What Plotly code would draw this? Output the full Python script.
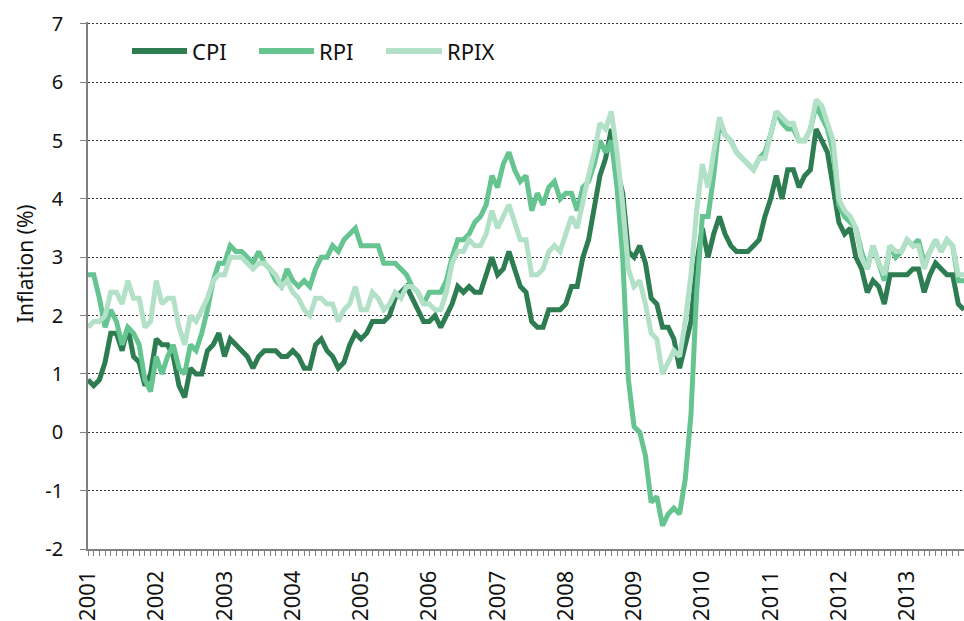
import plotly.graph_objects as go

# Monthly 12-month inflation rates, Jan 2001 - Nov 2013 (%)
years = list(range(2001, 2014))

cpi = [
    0.9, 0.8, 0.9, 1.2, 1.7, 1.7, 1.4, 1.8, 1.3, 1.2, 0.8, 1.0,
    1.6, 1.5, 1.5, 1.3, 0.8, 0.6, 1.1, 1.0, 1.0, 1.4, 1.5, 1.7,
    1.3, 1.6, 1.5, 1.4, 1.3, 1.1, 1.3, 1.4, 1.4, 1.4, 1.3, 1.3,
    1.4, 1.3, 1.1, 1.1, 1.5, 1.6, 1.4, 1.3, 1.1, 1.2, 1.5, 1.7,
    1.6, 1.7, 1.9, 1.9, 1.9, 2.0, 2.3, 2.4, 2.5, 2.3, 2.1, 1.9,
    1.9, 2.0, 1.8, 2.0, 2.2, 2.5, 2.4, 2.5, 2.4, 2.4, 2.7, 3.0,
    2.7, 2.8, 3.1, 2.8, 2.5, 2.4, 1.9, 1.8, 1.8, 2.1, 2.1, 2.1,
    2.2, 2.5, 2.5, 3.0, 3.3, 3.8, 4.4, 4.7, 5.2, 4.5, 4.1, 3.1,
    3.0, 3.2, 2.9, 2.3, 2.2, 1.8, 1.8, 1.6, 1.1, 1.5, 1.9, 2.9,
    3.5, 3.0, 3.4, 3.7, 3.4, 3.2, 3.1, 3.1, 3.1, 3.2, 3.3, 3.7,
    4.0, 4.4, 4.0, 4.5, 4.5, 4.2, 4.4, 4.5, 5.2, 5.0, 4.8, 4.2,
    3.6, 3.4, 3.5, 3.0, 2.8, 2.4, 2.6, 2.5, 2.2, 2.7, 2.7, 2.7,
    2.7, 2.8, 2.8, 2.4, 2.7, 2.9, 2.8, 2.7, 2.7, 2.2, 2.1,
]

rpi = [
    2.7, 2.7, 2.3, 1.8, 2.1, 1.9, 1.5, 1.8, 1.7, 1.5, 0.9, 0.7,
    1.3, 1.0, 1.3, 1.5, 1.1, 1.0, 1.5, 1.4, 1.7, 2.1, 2.6, 2.9,
    2.9, 3.2, 3.1, 3.1, 3.0, 2.9, 3.1, 2.9, 2.8, 2.6, 2.5, 2.8,
    2.6, 2.5, 2.6, 2.5, 2.8, 3.0, 3.0, 3.2, 3.1, 3.3, 3.4, 3.5,
    3.2, 3.2, 3.2, 3.2, 2.9, 2.9, 2.9, 2.8, 2.7, 2.5, 2.4, 2.2,
    2.4, 2.4, 2.4, 2.6, 3.0, 3.3, 3.3, 3.4, 3.6, 3.7, 3.9, 4.4,
    4.2, 4.6, 4.8, 4.5, 4.3, 4.4, 3.8, 4.1, 3.9, 4.2, 4.3, 4.0,
    4.1, 4.1, 3.8, 4.2, 4.3, 4.6, 5.0, 4.8, 5.0, 4.2, 3.0, 0.9,
    0.1, 0.0, -0.4, -1.2, -1.1, -1.6, -1.4, -1.3, -1.4, -0.8, 0.3, 2.4,
    3.7, 3.7, 4.4, 5.3, 5.1, 5.0, 4.8, 4.7, 4.6, 4.5, 4.7, 4.8,
    5.1, 5.5, 5.3, 5.2, 5.2, 5.0, 5.0, 5.2, 5.6, 5.4, 5.2, 4.8,
    3.9, 3.7, 3.6, 3.5, 3.1, 2.8, 3.2, 2.9, 2.6, 3.2, 3.0, 3.1,
    3.3, 3.2, 3.3, 2.9, 3.1, 3.3, 3.1, 3.3, 3.2, 2.6, 2.6,
]

rpix = [
    1.8, 1.9, 1.9, 2.0, 2.4, 2.4, 2.2, 2.6, 2.3, 2.3, 1.8, 1.9,
    2.6, 2.2, 2.3, 2.3, 1.8, 1.5, 2.0, 1.9, 2.1, 2.3, 2.6, 2.7,
    2.7, 3.0, 3.0, 3.0, 2.9, 2.8, 2.9, 2.9, 2.8, 2.7, 2.5, 2.6,
    2.4, 2.3, 2.1, 2.0, 2.3, 2.3, 2.2, 2.2, 1.9, 2.1, 2.2, 2.5,
    2.1, 2.1, 2.4, 2.3, 2.1, 2.2, 2.4, 2.3, 2.5, 2.5, 2.4, 2.2,
    2.2, 2.1, 2.1, 2.4, 2.9, 3.1, 3.1, 3.3, 3.2, 3.2, 3.4, 3.8,
    3.5, 3.7, 3.9, 3.6, 3.3, 3.3, 2.7, 2.7, 2.8, 3.1, 3.2, 3.1,
    3.4, 3.7, 3.5, 4.0, 4.4, 4.8, 5.3, 5.2, 5.5, 4.8, 3.9, 2.8,
    2.5, 2.6, 2.2, 1.7, 1.6, 1.0, 1.2, 1.4, 1.3, 1.9, 2.7, 3.8,
    4.6, 4.2, 4.8, 5.4, 5.1, 5.0, 4.8, 4.7, 4.6, 4.5, 4.7, 4.7,
    5.1, 5.5, 5.4, 5.3, 5.3, 5.0, 5.0, 5.2, 5.7, 5.6, 5.3, 5.0,
    4.0, 3.8, 3.7, 3.5, 3.0, 2.8, 3.2, 2.9, 2.7, 3.2, 3.1, 3.1,
    3.3, 3.2, 3.2, 2.8, 3.1, 3.3, 3.1, 3.3, 3.2, 2.7, 2.7,
]

series_names = ["CPI", "RPI", "RPIX"]
series_colors = ["#2e7d52", "#66c491", "#b2e1c8"]

y_ticks = [-2, -1, 0, 1, 2, 3, 4, 5, 6, 7]
y_labels = ["-2", "-1", "0", "1", "2", "3", "4", "5", "6", "7"]

months = list(range(len(cpi)))
year_ticks = [12 * i for i in range(len(years))]
year_labels = [str(y) for y in years]

FONT = "Noto Sans, Open Sans, DejaVu Sans, sans-serif"

fig = go.Figure()
for name, vals, col in zip(series_names, [cpi, rpi, rpix], series_colors):
    fig.add_trace(go.Scatter(
        x=months, y=vals, name=name, mode="lines",
        line=dict(color=col, width=5),
        showlegend=False, hoverinfo="x+y",
    ))

# Plot-area geometry in pixels, used to place the hand-drawn legend and title
W, H = 964, 621
L, R, T, B = 88, 0, 22, 70
pw, ph = W - L - R, H - T - B


def px_x(p):
    return (p - L) / pw


def px_y(p):
    return (H - B - p) / ph


# Legend: line sample followed by its label
legend_pos = [(132, 187), (259, 314), (386, 442)]
legend_y = 51
for (x0, x1), name, col in zip(legend_pos, series_names, series_colors):
    fig.add_shape(type="line", xref="paper", yref="paper",
                  x0=px_x(x0), x1=px_x(x1), y0=px_y(legend_y), y1=px_y(legend_y),
                  line=dict(color=col, width=6))
    fig.add_annotation(xref="paper", yref="paper", x=px_x(x1 + 3), y=px_y(legend_y),
                       text=name, showarrow=False, xanchor="left", yanchor="middle",
                       font=dict(family=FONT, size=22, color="#111111"))

# Y-axis title
fig.add_annotation(xref="paper", yref="paper", x=px_x(25), y=px_y(265),
                   text="Inflation (%)", textangle=-90, showarrow=False,
                   xanchor="center", yanchor="middle",
                   font=dict(family=FONT, size=21, color="#111111"))

fig.update_layout(
    width=W, height=H,
    margin=dict(l=L, r=R, t=T, b=B, pad=0),
    paper_bgcolor="white", plot_bgcolor="white",
    font=dict(family=FONT, size=18, color="#111111"),
    xaxis=dict(
        range=[0, len(cpi) - 1],
        tickmode="array", tickvals=year_ticks, ticktext=year_labels,
        tickangle=-90, ticks="outside", ticklen=5, tickcolor="#808080",
        tickwidth=1, ticklabelstandoff=6,
        minor=dict(dtick=1, tick0=0, ticks="outside", ticklen=5,
                   tickcolor="#808080", tickwidth=1, showgrid=False),
        showline=True, linecolor="#808080", linewidth=1.5,
        showgrid=False, zeroline=False, fixedrange=True,
        tickfont=dict(family=FONT, size=22, color="#111111"),
    ),
    yaxis=dict(
        # a little headroom above 7 so the top gridline is drawn
        range=[-2, 7.034], tickmode="array", tickvals=y_ticks, ticktext=y_labels,
        ticks="outside", ticklen=6, tickcolor="#808080", tickwidth=1,
        ticklabelstandoff=13,
        showline=True, linecolor="#808080", linewidth=1.5,
        showgrid=True, gridcolor="#3c3c3c", gridwidth=1, griddash="2px,2px",
        zeroline=False, fixedrange=True,
        tickfont=dict(family=FONT, size=20, color="#111111"),
    ),
)

fig.write_html("out.html")
